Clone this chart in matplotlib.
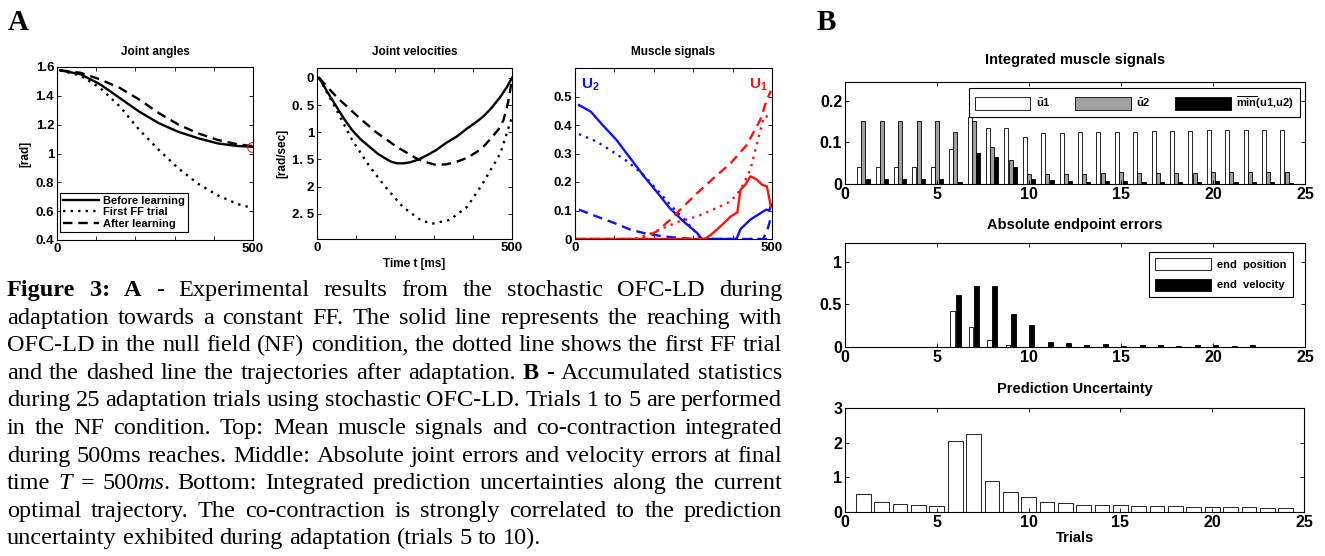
import re
import numpy as np
import matplotlib
matplotlib.use('Agg')
import matplotlib.pyplot as plt
from matplotlib.patches import Patch
from matplotlib.font_manager import FontProperties

plt.rcParams['font.family'] = ['Liberation Sans', 'DejaVu Sans']
plt.rcParams['font.weight'] = 'bold'
plt.rcParams['axes.labelweight'] = 'bold'
plt.rcParams['mathtext.fontset'] = 'custom'
plt.rcParams['mathtext.rm'] = 'Liberation Sans:bold'
plt.rcParams['mathtext.bf'] = 'Liberation Sans:bold'
plt.rcParams['mathtext.it'] = 'Liberation Sans:bold'
plt.rcParams['axes.linewidth'] = 0.8
plt.rcParams['xtick.direction'] = 'in'
plt.rcParams['ytick.direction'] = 'in'

# ---------------- data: panel A ----------------
# joint angles [rad] vs time [ms]
t_ang = [8, 60, 110, 160, 210, 260, 310, 360, 410, 460, 497]
ang_before = [1.577, 1.55, 1.48, 1.385, 1.29, 1.21, 1.15, 1.106, 1.07, 1.052, 1.047]
ang_first = [1.577, 1.54, 1.455, 1.327, 1.164, 1.024, 0.896, 0.79, 0.71, 0.65, 0.623]
ang_after = [1.577, 1.56, 1.514, 1.455, 1.374, 1.28, 1.2, 1.14, 1.094, 1.064, 1.052]

# joint velocities [rad/sec] (axis drawn reversed)
t_vel_before = [5, 30, 50, 70, 90, 112, 135, 155, 175, 190, 205, 222, 240, 260, 280, 305,
                330, 358, 385, 405, 425, 448, 470, 487, 500]
vel_before = [0.0, 0.3, 0.53, 0.76, 0.96, 1.13, 1.27, 1.39, 1.48, 1.54, 1.57, 1.57, 1.55, 1.5,
              1.43, 1.33, 1.20, 1.08, 0.93, 0.83, 0.72, 0.55, 0.35, 0.17, 0.0]
t_vel_first = [5, 50, 90, 135, 175, 220, 265, 295, 340, 385, 425, 470, 500]
vel_first = [0.0, 0.59, 1.14, 1.63, 2.0, 2.37, 2.61, 2.68, 2.61, 2.37, 1.94, 1.39, 0.72]
t_vel_after = [5, 50, 100, 150, 205, 255, 280, 305, 330, 355, 385, 410, 430, 450, 465, 478,
               490, 500]
vel_after = [0.0, 0.35, 0.68, 0.99, 1.27, 1.48, 1.55, 1.6, 1.59, 1.55, 1.47, 1.36, 1.24, 1.08,
             0.95, 0.78, 0.45, 0.03]

# muscle signals
t_u2_before = [10, 40, 70, 105, 140, 175, 210, 240, 275, 310, 322, 410, 420, 445, 470, 485, 493, 498]
u2_before = [0.47, 0.447, 0.40, 0.348, 0.284, 0.22, 0.161, 0.109, 0.062, 0.021, 0.0, 0.0,
             0.035, 0.068, 0.09, 0.103, 0.1, 0.12]
t_u2_first = [10, 55, 95, 130, 170, 210, 245, 280, 305, 320, 500]
u2_first = [0.368, 0.342, 0.307, 0.275, 0.23, 0.17, 0.115, 0.065, 0.025, 0.0, 0.0]
t_u2_after = [10, 55, 100, 140, 180, 225, 270, 300, 478, 490, 498]
u2_after = [0.103, 0.079, 0.056, 0.033, 0.019, 0.009, 0.003, 0.0, 0.0, 0.04, 0.08]
t_u1_before = [0, 330, 345, 360, 378, 395, 412, 420, 432, 445, 462, 475, 487, 497]
u1_before = [0.0, 0.0, 0.015, 0.033, 0.056, 0.079, 0.093, 0.173, 0.19, 0.22, 0.208, 0.19, 0.185, 0.114]
t_u1_first = [0, 150, 185, 225, 265, 310, 350, 395, 420, 445, 462, 480, 495]
u1_first = [0.0, 0.0, 0.015, 0.039, 0.062, 0.079, 0.103, 0.132, 0.173, 0.243, 0.336, 0.43, 0.43]
t_u1_after = [0, 170, 208, 242, 275, 310, 352, 395, 436, 470, 487, 497]
u1_after = [0.0, 0.0, 0.027, 0.068, 0.114, 0.161, 0.214, 0.266, 0.33, 0.418, 0.488, 0.52]

# ---------------- data: panel B ----------------
trials = list(range(1, 25))
u1_mean = [0.04, 0.04, 0.04, 0.04, 0.04, 0.083, 0.16, 0.134, 0.134, 0.112, 0.122, 0.122,
           0.124, 0.125, 0.126, 0.126, 0.127, 0.127, 0.127, 0.13, 0.129, 0.13, 0.13, 0.13]
u2_mean = [0.151, 0.151, 0.151, 0.151, 0.151, 0.126, 0.151, 0.088, 0.057, 0.023, 0.023, 0.023,
           0.023, 0.026, 0.028, 0.026, 0.027, 0.027, 0.027, 0.03, 0.028, 0.029, 0.029, 0.028]
min_mean = [0.011, 0.011, 0.011, 0.011, 0.011, 0.005, 0.074, 0.066, 0.041, 0.012, 0.009, 0.008,
            0.006, 0.008, 0.007, 0.005, 0.005, 0.005, 0.006, 0.008, 0.006, 0.005, 0.005, 0.003]
err_position = [0, 0, 0, 0, 0, 0.42, 0.23, 0.078, 0.027, 0.005, 0, 0,
                0, 0, 0, 0, 0, 0, 0, 0, 0, 0, 0, 0]
err_velocity = [0.004, 0.004, 0.004, 0.004, 0.004, 0.605, 0.71, 0.71, 0.387, 0.262, 0.059, 0.051,
                0.027, 0.035, 0.008, 0.02, 0.02, 0.008, 0.02, 0.02, 0.012, 0.02, 0.005, 0.005]
uncertainty = [0.53, 0.29, 0.23, 0.2, 0.18, 2.06, 2.26, 0.9, 0.58, 0.44, 0.30, 0.25,
               0.21, 0.21, 0.2, 0.17, 0.17, 0.16, 0.15, 0.15, 0.15, 0.14, 0.12, 0.11]

caption = [
    "**Figure** **3:** **A** - Experimental results from the stochastic OFC-LD during",
    "adaptation towards a constant FF. The solid line represents the reaching with",
    "OFC-LD in the null field (NF) condition, the dotted line shows the first FF trial",
    "and the dashed line the trajectories after adaptation. **B** **-** Accumulated statistics",
    "during 25 adaptation trials using stochastic OFC-LD. Trials 1 to 5 are performed",
    "in the NF condition. Top: Mean muscle signals and co-contraction integrated",
    "during 500ms reaches. Middle: Absolute joint errors and velocity errors at final",
    "time __T__ = 500__ms__. Bottom: Integrated prediction uncertainties along the current",
    "optimal trajectory. The co-contraction is strongly correlated to the prediction",
    "uncertainty exhibited during adaptation (trials 5 to 10).",
]

W, H = 1325, 556
fig = plt.figure(figsize=(W / 100, H / 100), dpi=100)
fig.patch.set_facecolor('white')


def rect(l, t, r, b):
    return [l / W, 1 - b / H, (r - l) / W, (b - t) / H]


def title_at(ax, s, top, bottom, yc, fs):
    ax.text(0.5, 1 + (top - yc) / (bottom - top), s, transform=ax.transAxes,
            ha='center', va='center', fontsize=fs, fontweight='bold')


def style(ax, fs):
    ax.tick_params(top=True, right=True, labelsize=fs, length=3, width=0.6, pad=2)


# ---- A: joint angles
ax1 = fig.add_axes(rect(57, 67, 253, 240))
ax1.plot(t_ang, ang_before, 'k-', lw=1.7, label='Before learning')
ax1.plot(t_ang, ang_first, 'k', ls=(0, (1, 2.2)), lw=1.7, label='First FF trial')
ax1.plot(t_ang, ang_after, 'k', ls=(0, (4, 2.5)), lw=1.7, label='After learning')
ax1.plot(t_ang[-1:], ang_before[-1:], 'o', mfc='none', mec='red', ms=7, mew=0.7)
ax1.set_xlim(0, 500)
ax1.set_ylim(0.4, 1.6)
ax1.set_yticks(np.arange(0.4, 1.61, 0.2))
ax1.set_yticklabels(['0.4', '0.6', '0.8', '1', '1.2', '1.4', '1.6'])
ax1.set_xticks(range(0, 501, 100))
ax1.set_xticklabels(['0', '', '', '', '', '500'])
ax1.set_ylabel('[rad]', fontsize=8.5, labelpad=3)
style(ax1, 9.5)
title_at(ax1, 'Joint angles', 67, 240, 52, 8.5)
leg = ax1.legend(loc='lower left', bbox_to_anchor=(0.015, 0.046), borderaxespad=0,
                 fontsize=8, handlelength=3.2, labelspacing=0.12, handletextpad=0.4,
                 borderpad=0.3, fancybox=False, edgecolor='black', framealpha=1)
leg.get_frame().set_linewidth(0.8)

# ---- A: joint velocities
ax2 = fig.add_axes(rect(317, 68, 512, 239))
ax2.plot(t_vel_before, vel_before, 'k-', lw=1.7)
ax2.plot(t_vel_first, vel_first, 'k', ls=(0, (1, 2.2)), lw=1.7)
ax2.plot(t_vel_after, vel_after, 'k', ls=(0, (4, 2.5)), lw=1.7)
ax2.set_xlim(0, 500)
ax2.set_ylim(2.96, -0.18)
ax2.set_yticks([0, 0.5, 1, 1.5, 2, 2.5])
ax2.set_yticklabels(['0', '0. 5', '1', '1. 5', '2', '2. 5'])
ax2.set_xticks(range(0, 501, 100))
ax2.set_xticklabels(['0', '', '', '', '', '500'])
ax2.set_ylabel('[rad/sec]', fontsize=8.5, labelpad=3)
ax2.set_xlabel('Time t [ms]', fontsize=8.5, labelpad=3)
style(ax2, 9.5)
title_at(ax2, 'Joint velocities', 68, 239, 52, 8.5)

# ---- A: muscle signals
ax3 = fig.add_axes(rect(575, 68, 772, 239))
ax3.plot(t_u2_before, u2_before, color='#1010ff', lw=1.7)
ax3.plot(t_u2_first, u2_first, color='#1010ff', ls=(0, (1, 2.2)), lw=1.7)
ax3.plot(t_u2_after, u2_after, color='#1010ff', ls=(0, (4, 2.5)), lw=1.7)
ax3.plot(t_u1_before, u1_before, color='#ff1010', lw=1.7)
ax3.plot(t_u1_first, u1_first, color='#ff1010', ls=(0, (1, 2.2)), lw=1.7)
ax3.plot(t_u1_after, u1_after, color='#ff1010', ls=(0, (4, 2.5)), lw=1.7)
ax3.set_xlim(0, 500)
ax3.set_ylim(0, 0.6)
ax3.set_yticks([0, 0.1, 0.2, 0.3, 0.4, 0.5])
ax3.set_yticklabels(['0', '0.1', '0.2', '0.3', '0.4', '0.5'])
ax3.set_xticks(range(0, 501, 100))
ax3.set_xticklabels(['0', '', '', '', '', '500'])
style(ax3, 9.5)
title_at(ax3, 'Muscle signals', 68, 239, 52, 8.5)
ax3.text(0.03, 0.88, r'$\mathrm{U_2}$', color='#1010ff', fontsize=11, transform=ax3.transAxes)
ax3.text(0.885, 0.88, r'$\mathrm{U_1}$', color='#ff1010', fontsize=11, transform=ax3.transAxes)

# ---- B: integrated muscle signals
x = np.array(trials)
bw = 0.22
axb1 = fig.add_axes(rect(845, 82, 1305, 184))
axb1.bar(x - 0.23, u1_mean, bw, color='white', edgecolor='black', lw=0.6)
axb1.bar(x, u2_mean, bw, color='#a0a0a0', edgecolor='black', lw=0.6)
axb1.bar(x + 0.23, min_mean, bw, color='black', edgecolor='black', lw=0.6)
axb1.set_xlim(0, 25)
axb1.set_ylim(0, 0.245)
axb1.set_yticks([0, 0.1, 0.2])
axb1.set_yticklabels(['0', '0.1', '0.2'])
axb1.set_xticks(range(0, 26, 5))
style(axb1, 11.5)
title_at(axb1, 'Integrated muscle signals', 82, 184, 60, 10.5)
hb = [Patch(facecolor='white', edgecolor='black', lw=0.6),
      Patch(facecolor='#a0a0a0', edgecolor='black', lw=0.6),
      Patch(facecolor='black', edgecolor='black', lw=0.6)]
lg = axb1.legend(hb, [r'$\bar{\mathrm{u}}$1', r'$\bar{\mathrm{u}}$2', r'$\overline{\mathrm{min}}$(u1,u2)'],
                 loc='upper right', bbox_to_anchor=(0.989, 0.941), borderaxespad=0, ncol=3,
                 fontsize=8, handlelength=5.0, handleheight=1.4, columnspacing=2.2,
                 handletextpad=0.5, borderpad=0.55, fancybox=False, edgecolor='black', framealpha=1)
lg.get_frame().set_linewidth(0.8)

# ---- B: absolute endpoint errors
axb2 = fig.add_axes(rect(845, 243, 1305, 347))
axb2.bar(x - 0.15, err_position, 0.25, color='white', edgecolor='black', lw=0.6)
axb2.bar(x + 0.15, err_velocity, 0.27, color='black', edgecolor='black', lw=0.6)
axb2.set_xlim(0, 25)
axb2.set_ylim(0, 1.22)
axb2.set_yticks([0, 0.5, 1])
axb2.set_yticklabels(['0', '0.5', '1'])
axb2.set_xticks(range(0, 26, 5))
style(axb2, 11.5)
title_at(axb2, 'Absolute endpoint errors', 243, 347, 225, 10.5)
hb2 = [Patch(facecolor='white', edgecolor='black', lw=0.6),
       Patch(facecolor='black', edgecolor='black', lw=0.6)]
lg2 = axb2.legend(hb2, ['end  position', 'end  velocity'], loc='upper right',
                  bbox_to_anchor=(0.974, 0.913), borderaxespad=0, fontsize=8,
                  handlelength=5.0, handleheight=1.3, labelspacing=0.75, handletextpad=0.6,
                  borderpad=0.55, fancybox=False, edgecolor='black', framealpha=1)
lg2.get_frame().set_linewidth(0.8)

# ---- B: prediction uncertainty
axb3 = fig.add_axes(rect(845, 408, 1304, 512))
axb3.bar(x, uncertainty, 0.8, color='white', edgecolor='black', lw=0.6)
axb3.set_xlim(0, 25)
axb3.set_ylim(0, 3)
axb3.set_yticks([0, 1, 2, 3])
axb3.set_xticks(range(0, 26, 5))
axb3.set_xlabel('Trials', fontsize=10.5, labelpad=1)
style(axb3, 11.5)
title_at(axb3, 'Prediction Uncertainty', 408, 512, 389, 10.5)

# panel letters
fig.text(18 / W, 1 - 22 / H, 'A', family='Liberation Serif', fontsize=21, fontweight='bold',
         ha='center', va='center')
fig.text(826 / W, 1 - 22 / H, 'B', family='Liberation Serif', fontsize=21, fontweight='bold',
         ha='center', va='center')

# ---- caption, justified line by line
renderer = fig.canvas.get_renderer()
KERN = 1.5  # pull pieces together where the style changes inside one word


def split_words(line):
    words = []
    for w in line.split(' '):
        parts = []
        for p in re.split(r'(\*\*[^*]+\*\*|__[^_]+__)', w):
            if not p:
                continue
            if p.startswith('**'):
                parts.append((p[2:-2], 'bold', 'normal'))
            elif p.startswith('__'):
                parts.append((p[2:-2], 'normal', 'italic'))
            else:
                parts.append((p, 'normal', 'normal'))
        words.append(parts)
    return words


def piece_w(s, wt, st, fs):
    prop = FontProperties(family='Liberation Serif', weight=wt, style=st, size=fs)
    return renderer.get_text_width_height_descent(s, prop, ismath=False)[0], prop


def words_width(words, fs):
    tot = 0
    for wd in words:
        tot += sum(piece_w(s, wt, st, fs)[0] for s, wt, st in wd) - KERN * (len(wd) - 1)
    return tot


cap_left, cap_right = 7, 782
lines = [split_words(l) for l in caption]
fs = 18.0
while fs > 12:
    ok = True
    for words in lines[:-1]:
        gap = (cap_right - cap_left - words_width(words, fs)) / (len(words) - 1)
        if gap < 0.22 * fs * 100 / 72:
            ok = False
            break
    if ok:
        break
    fs -= 0.25

space_w = piece_w('a a', 'normal', 'normal', fs)[0] - piece_w('aa', 'normal', 'normal', fs)[0]
for i, words in enumerate(lines):
    yb = 296 + 27.6 * i
    if i < len(lines) - 1:
        gap = (cap_right - cap_left - words_width(words, fs)) / (len(words) - 1)
    else:
        gap = space_w
    xx = cap_left
    for wd in words:
        for j, (s, wt, st) in enumerate(wd):
            w, prop = piece_w(s, wt, st, fs)
            if j > 0:
                xx -= KERN
            fig.text(xx / W, 1 - yb / H, s, fontproperties=prop, ha='left', va='baseline')
            xx += w
        xx += gap

fig.savefig('out.png', dpi=100, facecolor='white')
